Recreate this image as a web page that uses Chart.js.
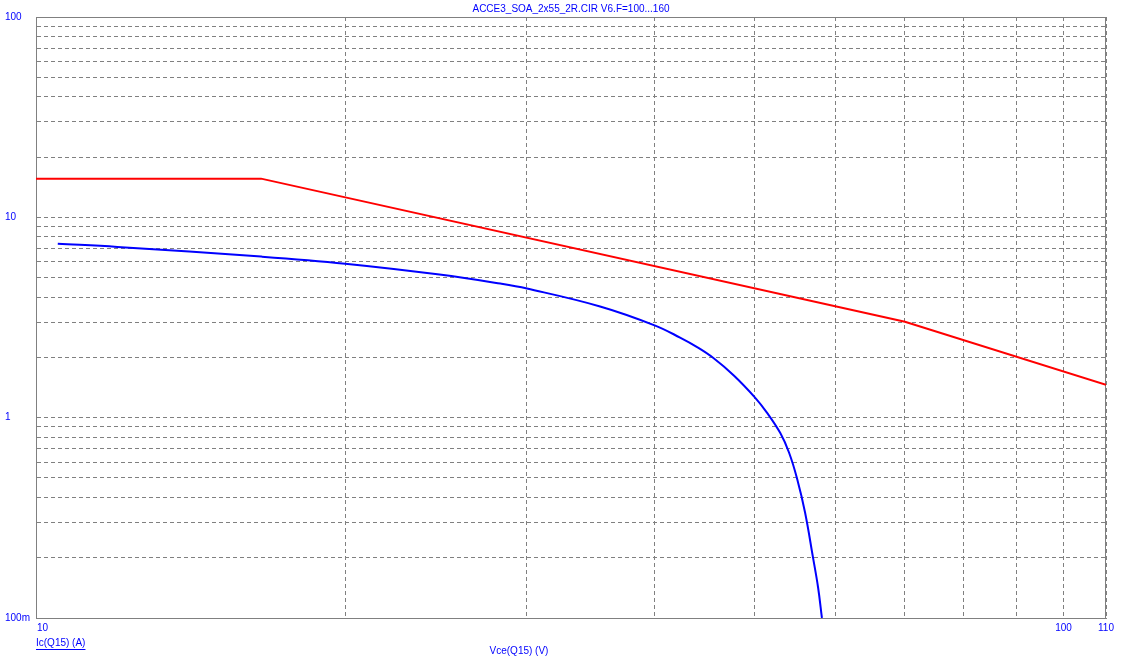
<!DOCTYPE html>
<html>
<head>
<meta charset="utf-8">
<script src="https://cdn.jsdelivr.net/npm/chart.js@4"></script>
<style>
  html, body { margin: 0; padding: 0; background: #fff; }
  #wrap { width: 1134px; height: 669px; }
</style>
</head>
<body>
<div id="wrap"><canvas id="chart"></canvas></div>
<script>
const chartTitle = "ACCE3_SOA_2x55_2R.CIR V6.F=100...160";
const xTitle = "Vce(Q15) (V)";
const yTitle = "Ic(Q15) (A)";

// SOA limit (red)
const redV = [10, 16.56, 70.1, 110];
const redI = [15.6, 15.6, 3.01, 1.46];

// Ic vs Vce (blue)
const blueV = [10.5, 12.0, 16.56, 20.0, 24.7, 28.3, 30.05, 35.4, 40.0, 42.35, 44.0, 45.6, 47.8, 50.1, 51.45, 53.0, 54.06, 55.05, 56.04, 57.05, 57.7, 58.2];
const blueI = [7.39, 7.12, 6.37, 5.87, 5.18, 4.67, 4.41, 3.59, 2.89, 2.51, 2.25, 1.99, 1.62, 1.26, 1.06, 0.84, 0.67, 0.496, 0.336, 0.2, 0.142, 0.1];

const xTicks = [10, 20, 30, 40, 50, 60, 70, 80, 90, 100, 110];
const xTickLabels = { 10: "10", 100: "100", 110: "110" };
const yTicks = [0.1, 0.2, 0.3, 0.4, 0.5, 0.6, 0.7, 0.8, 0.9,
  1, 2, 3, 4, 5, 6, 7, 8, 9,
  10, 20, 30, 40, 50, 60, 70, 80, 90, 100];
const yTickLabels = { 0.1: "100m", 1: "1", 10: "10", 100: "100" };

const blue = "#0000ff";
const gridGray = "#808080";
const font = "10px 'Liberation Sans', Arial, sans-serif";

const toPoints = (xs, ys) => xs.map((x, i) => ({ x: x, y: ys[i] }));

const decorations = {
  id: "decorations",
  beforeDatasetsDraw(chart) {
    const { ctx, chartArea } = chart;
    ctx.save();
    ctx.strokeStyle = gridGray;
    ctx.lineWidth = 1;
    ctx.strokeRect(chartArea.left + 0.5, chartArea.top + 0.5,
      chartArea.right - chartArea.left - 1, chartArea.bottom - chartArea.top);
    ctx.restore();
  },
  afterDraw(chart) {
    const { ctx, chartArea } = chart;
    const xs = chart.scales.x;
    ctx.save();
    ctx.font = font;
    ctx.fillStyle = blue;
    ctx.textBaseline = "middle";

    // title
    ctx.textAlign = "center";
    ctx.fillText(chartTitle, (chartArea.left + chartArea.right) / 2, 9);

    // x tick labels
    xTicks.forEach((v) => {
      const label = xTickLabels[v];
      if (!label) return;
      const px = xs.getPixelForValue(v);
      ctx.textAlign = v === xTicks[0] ? "left" : "center";
      ctx.fillText(label, v === xTicks[0] ? px + 1 : px, chartArea.bottom + 10);
    });

    // y axis name, underlined
    ctx.textAlign = "left";
    const yx = chartArea.left;
    const yy = chartArea.bottom + 25;
    ctx.fillText(yTitle, yx, yy);
    const w = ctx.measureText(yTitle).width;
    ctx.fillRect(yx, yy + 6, w, 1);

    // x axis name
    ctx.textAlign = "center";
    ctx.fillText(xTitle, 519, chartArea.bottom + 33);
    ctx.restore();
  },
};

new Chart(document.getElementById("chart"), {
  type: "scatter",
  data: {
    datasets: [
      {
        data: toPoints(redV, redI),
        showLine: true,
        borderColor: "#ff0000",
        backgroundColor: "#ff0000",
        borderWidth: 2,
        pointRadius: 0,
        tension: 0,
      },
      {
        data: toPoints(blueV, blueI),
        showLine: true,
        borderColor: blue,
        backgroundColor: blue,
        borderWidth: 2,
        pointRadius: 0,
        tension: 0.4,
      },
    ],
  },
  options: {
    responsive: true,
    maintainAspectRatio: false,
    animation: false,
    layout: {
      padding: { left: 5, right: 28, top: 17, bottom: 0 },
    },
    plugins: {
      legend: { display: false },
      title: { display: false },
      tooltip: { enabled: false },
    },
    scales: {
      x: {
        type: "logarithmic",
        min: 10,
        max: 110,
        afterBuildTicks: (scale) => {
          scale.ticks = xTicks.map((v) => ({ value: v }));
        },
        afterFit: (scale) => {
          scale.height = 51;
        },
        ticks: { display: false, autoSkip: false },
        grid: {
          color: gridGray,
          lineWidth: 1,
          drawTicks: false,
        },
        border: { display: true, color: gridGray, width: 1, dash: [4, 3] },
      },
      y: {
        type: "logarithmic",
        min: 0.1,
        max: 100,
        afterBuildTicks: (scale) => {
          scale.ticks = yTicks.map((v) => ({ value: v }));
        },
        afterFit: (scale) => {
          scale.width = 31;
        },
        ticks: {
          autoSkip: false,
          crossAlign: "far",
          padding: 0,
          color: blue,
          font: { family: "'Liberation Sans', Arial, sans-serif", size: 10 },
          callback: (value) => yTickLabels[value] || "",
        },
        grid: {
          color: gridGray,
          lineWidth: 1,
          drawTicks: false,
        },
        border: { display: true, color: gridGray, width: 1, dash: [4, 3] },
      },
    },
  },
  plugins: [decorations],
});
</script>
</body>
</html>
